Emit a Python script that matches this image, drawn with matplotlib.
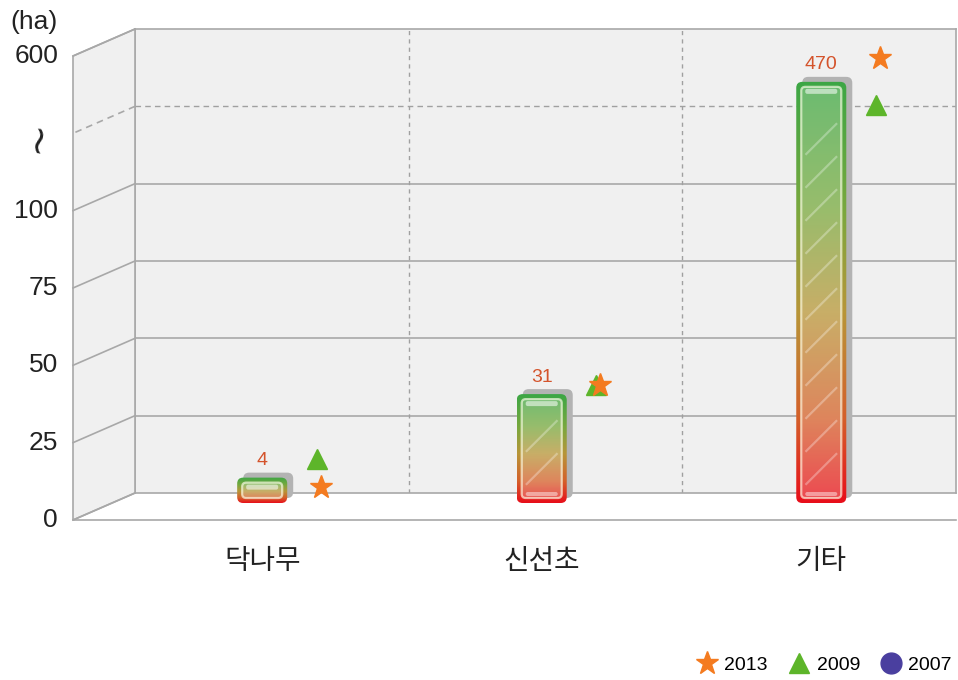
import numpy as np
import matplotlib.pyplot as plt
from matplotlib.patches import FancyBboxPatch, Polygon
from matplotlib.image import BboxImage
from matplotlib.transforms import Bbox, IdentityTransform
from matplotlib.lines import Line2D
from matplotlib.colors import to_rgb

plt.rcParams['font.family'] = ['Noto Sans CJK KR', 'DejaVu Sans']
NUMFONT = ['Liberation Sans', 'DejaVu Sans']

categories = ['닥나무', '신선초', '기타']
values = [4, 31, 470]
y2013 = [2, 35, 532]
y2009 = [11, 35, 423]
years = ['2013', '2009', '2007']
yticks = [0, 25, 50, 75, 100, 600]

# broken axis: value -> drawn height
brk_val = [0, 100, 420, 600]
brk_pos = [0, 100, 125, 150]


def fwd(v):
    return np.interp(v, brk_val, brk_pos)


def inv(p):
    return np.interp(p, brk_pos, brk_val)


W, H = 958, 680
fig = plt.figure(figsize=(W / 100, H / 100), dpi=100)
ax = fig.add_axes([135 / W, 1 - 493 / H, 821 / W, 464 / H])
ax.set_yscale('function', functions=(fwd, inv))
ax.set_xlim(0.045, 2.982)
ax.set_ylim(0, 600)
ax.set_xticks([])
ax.set_yticks([])
ax.set_facecolor('#f0f0f0')
gc = '#a8a8a8'
for s in ax.spines.values():
    s.set_color(gc)
    s.set_linewidth(1.2)

for v in yticks[1:-1]:
    ax.axhline(v, color=gc, lw=1.2)
ax.axhline(420, color='#a0a0a0', lw=1, ls=(0, (4, 3)))
for xf in [1 / 3, 2 / 3]:
    ax.plot([xf, xf], [0, 1], transform=ax.transAxes, color='#a0a0a0', lw=1, ls=(0, (3, 3)))

ident = IdentityTransform()


def px(x, v):
    return ax.transData.transform((x, v))


# depth offset of the pseudo 3d box
ddx, ddy = -62, -27
x0l, x1r = ax.bbox.x0, ax.bbox.x1
yb0 = px(1, 0)[1]
ytop = px(1, 600)[1]
wall = Polygon([(x0l, yb0), (x0l, ytop), (x0l + ddx, ytop + ddy), (x0l + ddx, yb0 + ddy)],
               closed=True, facecolor='#f0f0f0', edgecolor=gc, lw=1.2, transform=ident)
fig.add_artist(wall)
for v in yticks + [420]:
    yv = px(1, v)[1]
    ls = (0, (4, 3)) if v == 420 else '-'
    fig.add_artist(Line2D([x0l, x0l + ddx], [yv, yv + ddy], color=gc, lw=1.2, ls=ls, transform=ident))
    if v != 420:
        fig.text(x0l + ddx - 15, yv + ddy, str(v), ha='right', va='center', fontsize=19,
                 color='#222222', transform=ident, family=NUMFONT)
# floor front edge
fig.add_artist(Line2D([x0l + ddx, x1r], [yb0 + ddy, yb0 + ddy], color=gc, lw=1.2, transform=ident))

fig.text(58, H - 22, '(ha)', ha='right', va='center', fontsize=19, color='#222222',
         transform=ident, family=NUMFONT)
fig.text(37, H - 137, '~', ha='center', va='center', fontsize=28, rotation=80,
         color='#222222', transform=ident, family='DejaVu Sans')

# gradient for bars
stops = [(0.0, '#3ca645'), (0.3, '#78a83e'), (0.55, '#b89538'), (0.8, '#d4602a'), (1.0, '#e80e1a')]
tt = np.linspace(0, 1, 256)
grad = np.zeros((256, 2, 3))
for c in range(3):
    grad[:, :, c] = np.interp(tt, [s[0] for s in stops], [to_rgb(s[1])[c] for s in stops])[:, None]

bw = 0.179
for i, v in enumerate(values):
    xc = i + 0.5
    x0, yb = px(xc - bw / 2, 0)
    x1, yt = px(xc + bw / 2, v)
    bot = yb - 10
    top = yt + 3
    r = 6
    shadow = FancyBboxPatch((x0 + 6, bot + 5), x1 - x0, top - bot, boxstyle=f'round,pad=0,rounding_size={r}',
                            facecolor='#b3b3b3', edgecolor='none', transform=ident, zorder=1)
    fig.add_artist(shadow)
    body = FancyBboxPatch((x0, bot), x1 - x0, top - bot, boxstyle=f'round,pad=0,rounding_size={r}',
                          facecolor='none', edgecolor='none', transform=ident, zorder=1.1)
    fig.add_artist(body)
    im = BboxImage(Bbox.from_extents(x0, bot, x1, top), interpolation='bilinear', zorder=1.5)
    im.set_data(grad)
    im.set_clip_path(body)
    fig.add_artist(im)
    # glass inner part
    ins = 5
    ih = max(top - bot - 2 * ins, 6)
    inner = FancyBboxPatch((x0 + ins, bot + ins), x1 - x0 - 2 * ins, ih,
                           boxstyle='round,pad=0,rounding_size=4', facecolor=(1, 1, 1, 0.24),
                           edgecolor=(1, 1, 0.92, 0.65), lw=1.6, transform=ident, zorder=2)
    fig.add_artist(inner)
    hl_h = min(5, ih / 2)
    fig.add_artist(FancyBboxPatch((x0 + ins + 4, bot + ins + ih - hl_h - 2), x1 - x0 - 2 * ins - 8, hl_h,
                                  boxstyle='round,pad=0,rounding_size=2', facecolor=(1, 1, 1, 0.55),
                                  edgecolor='none', transform=ident, zorder=2.1))
    if ih > 30:
        fig.add_artist(FancyBboxPatch((x0 + ins + 4, bot + ins + 2), x1 - x0 - 2 * ins - 8, 4,
                                      boxstyle='round,pad=0,rounding_size=2', facecolor=(1, 1, 1, 0.45),
                                      edgecolor='none', transform=ident, zorder=2.1))
        yy = bot + ins + 14
        while yy < bot + ins + ih - 36:
            ln = Line2D([x0 + ins + 5, x1 - ins - 5], [yy, yy + 30], color=(1, 1, 1, 0.3), lw=1.6,
                        transform=ident, zorder=2.2)
            fig.add_artist(ln)
            yy += 33
    fig.text((x0 + x1) / 2, top + 17, str(v), ha='center', va='center', fontsize=14,
             color='#d4532b', transform=ident, family=NUMFONT)
    fig.text((x0 + x1) / 2, H - 561, categories[i], ha='center', va='center', fontsize=20,
             color='#222222', transform=ident)

xs = np.arange(len(categories)) + 0.5
ax.plot(xs + 0.195, y2009, ls='none', marker='^', ms=14, color='#5db52a', clip_on=False, zorder=5)
ax.plot(xs + 0.21, y2013, ls='none', marker='*', ms=17, color='#f47b20', clip_on=False, zorder=6)

handles = [Line2D([], [], ls='none', marker='*', ms=17, color='#f47b20'),
           Line2D([], [], ls='none', marker='^', ms=14, color='#5db52a'),
           Line2D([], [], ls='none', marker='o', ms=15, color='#4a3f9f')]
fig.legend(handles, years, ncol=3, frameon=False, loc='center right', bbox_to_anchor=(952 / W, 1 - 665 / H),
           prop={'family': NUMFONT, 'size': 14}, handletextpad=0.3, columnspacing=1.0, handlelength=1.2,
           borderpad=0, borderaxespad=0)

fig.savefig('out.png', dpi=100)
